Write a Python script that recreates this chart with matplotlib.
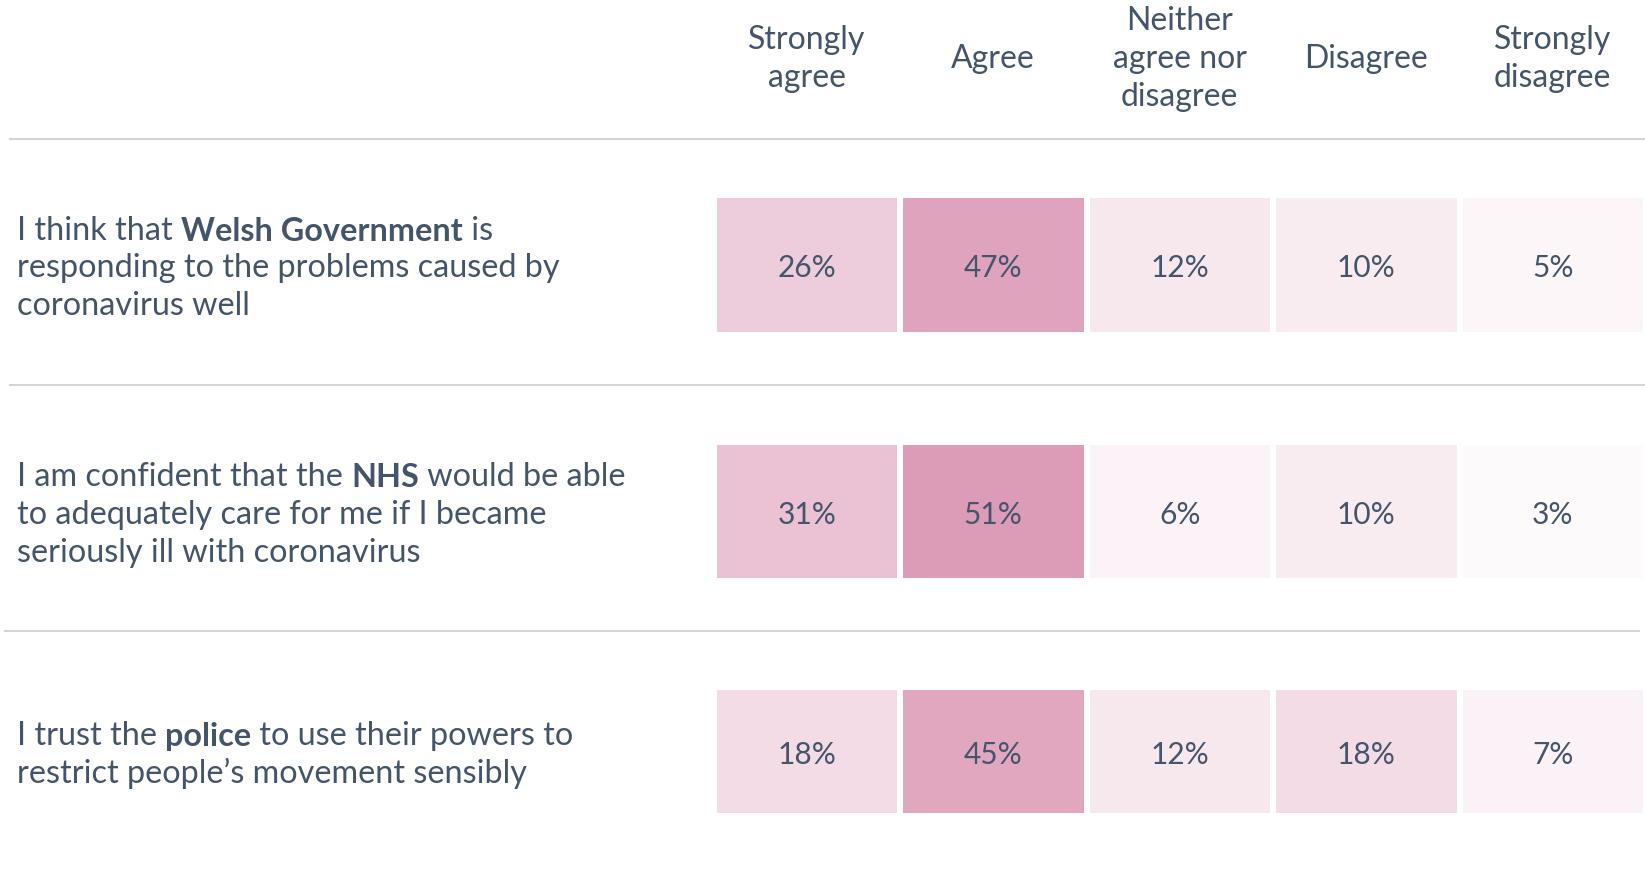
import matplotlib.pyplot as plt
from matplotlib.colors import LinearSegmentedColormap
from matplotlib.patches import Rectangle

# answer categories (column headers)
categories = ["Strongly\nagree", "Agree", "Neither\nagree nor\ndisagree",
              "Disagree", "Strongly\ndisagree"]

# statements, each line is a list of (text, weight) pieces
statements = [
    [[("I think that ", "normal"), ("Welsh Government", "bold"), (" is", "normal")],
     [("responding to the problems caused by", "normal")],
     [("coronavirus well", "normal")]],
    [[("I am confident that the ", "normal"), ("NHS", "bold"), (" would be able", "normal")],
     [("to adequately care for me if I became", "normal")],
     [("seriously ill with coronavirus", "normal")]],
    [[("I trust the ", "normal"), ("police", "bold"), (" to use their powers to", "normal")],
     [("restrict people\u2019s movement sensibly", "normal")]],
]

# percentages per statement
welsh_gov = [26, 47, 12, 10, 5]
nhs = [31, 51, 6, 10, 3]
police = [18, 45, 12, 18, 7]
values = [welsh_gov, nhs, police]

text_col = "#44546a"
line_col = "#d4d4d4"
cmap = LinearSegmentedColormap.from_list("pinks", ["#ffffff", "#ba3b72"])

plt.rcParams["font.family"] = ["Lato", "DejaVu Sans"]
fig = plt.figure(figsize=(16.45, 8.76), dpi=100)
ax = fig.add_axes([0, 0, 1, 1])
ax.set_xlim(0, 1645)
ax.set_ylim(876, 0)
ax.axis("off")

# cell layout in pixels
col_left = 716.5
col_step = 186.5
cell_w = 180.5
row_spans = [(198, 331.5), (445, 578), (690, 813)]
fs_label = 23.3
fs_head = 23
fs_pct = 21.5
line_h = 37.7
y_shift = 3.5

# header
for i, cat in enumerate(categories):
    ax.text(col_left + i * col_step + cell_w / 2, 59, cat, ha="center", va="center",
            fontsize=fs_head, color=text_col, linespacing=1.33)

# separators
ax.plot([10, 1645], [138.5, 138.5], color=line_col, lw=1.5)
ax.plot([10, 1645], [385, 385], color=line_col, lw=1.5)
ax.plot([5, 1639], [630.5, 630.5], color=line_col, lw=1.5)

for r, (lines, vals) in enumerate(zip(statements, values)):
    top, bot = row_spans[r]
    yc = (top + bot) / 2
    for i, v in enumerate(vals):
        x0 = col_left + i * col_step
        ax.add_patch(Rectangle((x0, top), cell_w, bot - top, facecolor=cmap(v / 100),
                               edgecolor="none"))
        ax.text(x0 + cell_w / 2, yc + y_shift, f"{v}%", ha="center", va="center",
                fontsize=fs_pct, color=text_col)
    n = len(lines)
    for k, pieces in enumerate(lines):
        y = yc + y_shift + (k - (n - 1) / 2) * line_h
        prev = None
        for txt, wt in pieces:
            if prev is None:
                prev = ax.text(17, y, txt, ha="left", va="center", fontsize=fs_label,
                               color=text_col, fontweight=wt)
            else:
                prev = ax.annotate(txt, xy=(1, 0), xycoords=prev, ha="left", va="bottom",
                                   fontsize=fs_label, color=text_col, fontweight=wt)

fig.savefig("out.png", dpi=100)
